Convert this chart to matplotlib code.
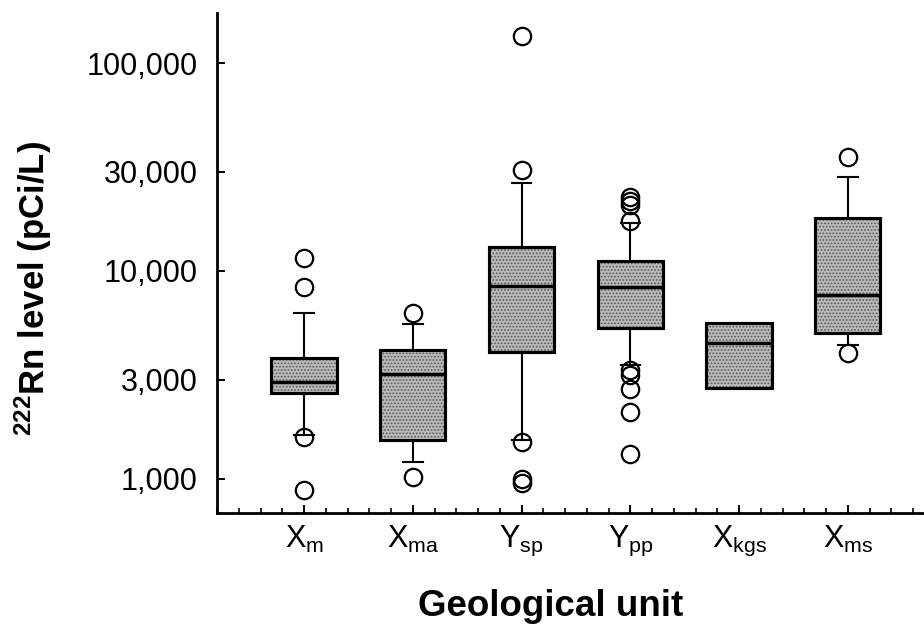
import matplotlib
matplotlib.use('Agg')
import matplotlib.pyplot as plt
from matplotlib.patches import PathPatch
from matplotlib.ticker import MultipleLocator, NullLocator

plt.rcParams['font.family'] = 'Liberation Sans'
plt.rcParams['mathtext.fontset'] = 'custom'
plt.rcParams['mathtext.rm'] = 'Liberation Sans'
plt.rcParams['mathtext.it'] = 'Liberation Sans:italic'
plt.rcParams['mathtext.bf'] = 'Liberation Sans:bold'
plt.rcParams['hatch.linewidth'] = 0.8

# radon levels by geological unit (pCi/L)
units = ['X_{m}', 'X_{ma}', 'Y_{sp}', 'Y_{pp}', 'X_{kgs}', 'X_{ms}']
q1 = [2580, 1540, 4070, 5300, 2730, 5020]
med = [2940, 3200, 8500, 8350, 4490, 7670]
q3 = [3800, 4170, 13000, 11200, 5640, 17900]
whislo = [1620, 1210, 1540, 3530, 2730, 4410]
whishi = [6260, 5540, 26400, 17100, 5640, 28400]
fliers = [
    [11500, 8400, 1600, 886],
    [6300, 1026],
    [135300, 30600, 1511, 997, 953],
    [22800, 21800, 20800, 17300, 3340, 3160, 2710, 2090, 1320],
    [],
    [35400, 4050],
]

yticks = [1000, 3000, 10000, 30000, 100000]

stats = []
for i, u in enumerate(units):
    stats.append({
        'label': r'$\mathregular{%s}$' % u,
        'q1': q1[i], 'med': med[i], 'q3': q3[i],
        'whislo': whislo[i], 'whishi': whishi[i],
        'fliers': fliers[i],
    })

fig = plt.figure(figsize=(9.24, 6.33), dpi=100)
ax = fig.add_axes([217/924, 1 - 513/633, 1 - 217/924, 500/633])

bp = ax.bxp(stats, positions=range(1, len(units) + 1), widths=0.6,
            capwidths=0.18, patch_artist=True,
            boxprops=dict(facecolor='#bababa', edgecolor='black', linewidth=2.2),
            medianprops=dict(color='black', linewidth=2.5),
            whiskerprops=dict(color='black', linewidth=1.5),
            capprops=dict(color='black', linewidth=1.5),
            flierprops=dict(marker='o', markersize=12.5, markerfacecolor='none',
                            markeredgecolor='black', markeredgewidth=1.6))

# speckled fill on the boxes, then the outline again on top
for box in bp['boxes']:
    z = box.get_zorder()
    ax.add_patch(PathPatch(box.get_path(), transform=box.get_transform(),
                           facecolor='none', edgecolor='#555555', linewidth=0,
                           hatch='.....', zorder=z + 0.02))
    ax.add_patch(PathPatch(box.get_path(), transform=box.get_transform(),
                           facecolor='none', edgecolor='black', linewidth=2.2,
                           zorder=z + 0.04))

ax.set_yscale('log')
ax.set_ylim(686, 174000)
ax.set_xlim(0.2, 6.7)
ax.set_yticks(yticks)
ax.set_yticklabels([f'{v:,}' for v in yticks])
ax.yaxis.set_minor_locator(NullLocator())
ax.xaxis.set_minor_locator(MultipleLocator(0.2))

ax.tick_params(axis='y', which='major', direction='in', length=6, width=1.4,
               pad=14, labelsize=22)
ax.tick_params(axis='x', which='major', direction='in', length=6, width=1.4,
               pad=8, labelsize=22)
ax.tick_params(axis='x', which='minor', direction='in', length=3.5, width=1.2)

for side in ['top', 'right']:
    ax.spines[side].set_visible(False)
for side in ['left', 'bottom']:
    ax.spines[side].set_linewidth(2)

fig.text(33/924, 1 - 288/633, r'${}^{\mathbf{222}}$Rn level (pCi/L)',
         rotation=90, ha='center', va='center', fontsize=25, fontweight='bold')
fig.text(551/924, 1 - 607/633, 'Geological unit', ha='center', va='center',
         fontsize=26.5, fontweight='bold')

fig.savefig('out.png', dpi=100)
